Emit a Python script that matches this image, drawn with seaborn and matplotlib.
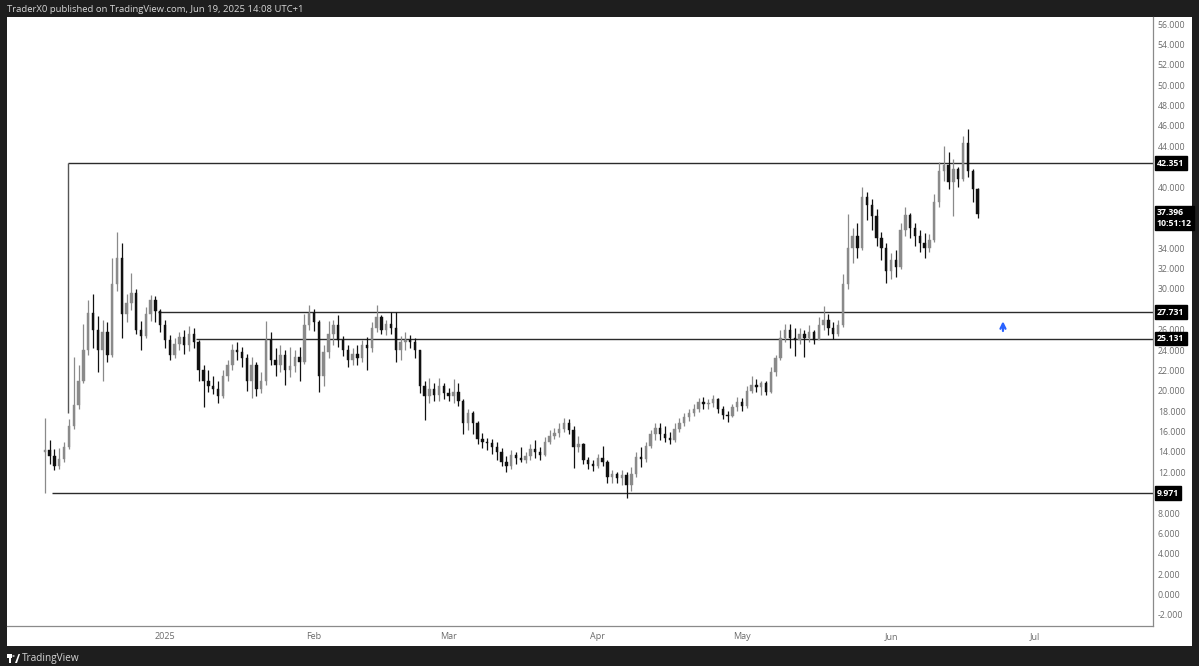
import matplotlib
matplotlib.use("Agg")
import matplotlib.pyplot as plt
import matplotlib.dates as mdates
import matplotlib.transforms as mtransforms
from matplotlib.patches import Rectangle, Polygon, Circle
import numpy as np
import pandas as pd
import seaborn as sns

# -----------------------------
# DATA (daily candles)
# -----------------------------
first_day = "2024-12-07"
first_open = 14.0

close = [14.2, 13.6, 12.6, 13.3, 14.5, 16.5, 18.6, 21.0, 24.0, 27.6, 26.0, 24.0, 25.8, 23.5,
         30.5, 33.0, 27.5, 28.6, 29.6, 26.0, 25.4, 27.5, 28.9, 27.8,
         26.5, 25.0, 23.5, 24.6, 25.3, 24.5, 25.6, 24.8, 22.0, 21.0, 20.5, 20.2, 19.5, 21.5,
         22.5, 24.0, 23.8, 23.2, 21.0, 22.5, 20.2, 21.0, 25.0, 23.0, 22.5, 23.5, 22.0, 22.4,
         23.3, 22.8, 26.5, 27.6, 26.8, 21.5, 23.8, 25.6, 26.5, 25.0, 24.0, 23.0, 23.6, 23.2,
         24.5, 24.2, 26.2, 27.2, 26.0, 26.6, 26.2, 24.0, 24.8, 25.0, 24.8, 24.0, 20.5, 19.5,
         20.2, 19.6, 20.5, 19.8, 19.5, 19.9, 19.0, 16.8, 17.8, 16.8, 15.3, 15.0, 14.9, 14.5,
         14.0, 13.0, 12.6, 13.7, 13.4, 13.2, 13.6, 14.3, 14.0, 13.7, 15.0, 15.6, 15.9, 16.3,
         16.8, 16.2, 14.5, 14.8, 13.2, 12.8, 12.6, 13.4, 13.0, 11.5, 11.8, 11.4, 11.7, 10.8,
         11.8, 13.5, 13.3, 14.6, 15.8, 16.4, 15.8, 15.4, 15.2, 16.3, 16.8, 17.4, 17.8, 18.2,
         18.9, 18.7, 18.8, 19.2, 18.2, 17.6, 17.5, 18.4, 18.9, 18.5, 20.0, 20.6, 20.4, 20.8,
         19.9, 21.8, 23.2, 25.2, 26.0, 25.2, 25.0, 25.6, 25.2, 25.8, 25.0, 26.5, 27.0, 26.2,
         25.6, 26.5, 30.5, 34.0, 35.2, 34.0, 39.0, 38.2, 37.2, 35.0, 34.0, 31.8, 32.8, 32.2,
         35.8, 37.3, 36.0, 35.2, 34.5, 34.0, 34.8, 38.5, 41.6, 42.2, 40.5, 41.8, 40.8, 44.3,
         41.6, 39.8, 37.396]

high = [17.3, 15.2, 14.3, 14.4, 15.0, 17.2, 23.3, 22.5, 26.6, 28.9, 29.5, 27.3, 27.0, 26.8,
        33.0, 35.6, 34.5, 29.5, 31.6, 30.0, 26.9, 28.2, 29.4, 29.3,
        28.0, 27.0, 25.5, 25.2, 25.8, 26.0, 26.4, 26.2, 25.0, 22.5, 22.0, 21.5, 21.0, 22.0,
        23.0, 24.6, 24.8, 24.3, 23.6, 23.3, 22.8, 21.8, 26.9, 25.8, 24.2, 24.5, 24.0, 24.3,
        24.0, 24.3, 27.5, 28.4, 28.0, 27.0, 24.5, 26.9, 27.0, 27.4, 25.4, 24.5, 24.2, 24.5,
        25.0, 25.3, 26.8, 28.4, 27.4, 27.0, 27.7, 27.7, 25.4, 25.8, 25.5, 25.2, 24.0, 21.0,
        21.3, 20.8, 21.3, 20.8, 20.3, 21.2, 20.8, 19.2, 18.2, 18.0, 17.0, 15.9, 15.4, 15.3,
        15.0, 14.4, 13.6, 14.2, 14.0, 14.5, 14.0, 14.8, 15.2, 14.5, 15.5, 16.2, 16.4, 16.8,
        17.3, 17.2, 16.5, 15.6, 14.9, 13.5, 13.2, 13.8, 14.6, 13.2, 12.2, 12.0, 12.2, 12.0,
        12.5, 14.0, 14.5, 15.0, 16.2, 16.8, 16.8, 16.5, 16.0, 16.8, 17.3, 17.8, 18.2, 18.7,
        19.3, 19.4, 19.2, 19.6, 19.3, 18.5, 18.0, 18.7, 19.4, 19.3, 20.5, 21.5, 21.2, 21.0,
        21.0, 22.3, 23.5, 26.0, 26.6, 26.6, 26.2, 26.2, 26.0, 26.5, 26.0, 27.2, 28.3, 27.5,
        26.8, 27.0, 31.5, 37.4, 36.0, 36.5, 40.0, 39.5, 38.8, 37.8, 35.6, 34.5, 33.5, 33.8,
        36.5, 38.0, 37.5, 36.5, 35.8, 35.5, 35.4, 39.3, 42.5, 44.0, 43.4, 42.8, 42.0, 45.0,
        45.7, 41.8, 39.9]

low = [9.971, 12.8, 12.2, 12.3, 13.0, 14.3, 16.3, 18.2, 20.8, 23.5, 24.2, 21.8, 21.0, 22.8,
       23.3, 29.8, 25.2, 26.8, 27.9, 25.6, 24.0, 25.2, 26.9, 26.8,
       25.8, 24.2, 23.0, 23.2, 24.0, 23.6, 23.9, 24.2, 21.0, 18.4, 19.9, 19.7, 18.8, 19.3,
       21.0, 22.0, 23.0, 22.3, 20.0, 19.3, 19.5, 19.8, 20.6, 22.5, 21.5, 21.8, 20.6, 21.4,
       21.8, 21.0, 22.6, 26.0, 25.9, 19.9, 20.5, 23.2, 24.5, 24.3, 23.4, 22.3, 22.5, 22.5,
       22.8, 22.0, 23.8, 25.8, 25.6, 25.5, 25.6, 22.8, 23.0, 24.0, 24.2, 23.2, 19.8, 17.1,
       18.8, 19.0, 19.0, 19.2, 19.0, 18.8, 18.5, 15.8, 16.2, 15.8, 14.8, 14.4, 14.2, 13.8,
       13.2, 12.6, 12.0, 12.3, 12.8, 13.0, 12.9, 13.2, 13.4, 13.2, 13.6, 14.8, 15.3, 15.5,
       16.0, 15.8, 12.4, 14.0, 12.8, 12.3, 12.1, 12.4, 12.6, 11.0, 11.0, 11.0, 10.8, 9.5,
       10.2, 11.5, 12.5, 13.0, 14.4, 15.2, 15.2, 15.0, 14.8, 15.0, 16.0, 16.5, 17.0, 17.5,
       17.9, 18.2, 18.2, 18.4, 17.8, 17.2, 16.9, 17.4, 18.0, 18.0, 18.3, 19.8, 19.9, 19.6,
       19.6, 19.8, 21.5, 23.0, 24.8, 24.2, 23.4, 24.6, 23.3, 24.8, 24.6, 25.2, 26.0, 25.5,
       25.1, 25.4, 26.3, 30.0, 32.5, 33.0, 33.8, 36.8, 35.8, 34.2, 32.8, 30.6, 31.0, 31.2,
       32.0, 35.2, 35.0, 34.2, 33.6, 33.0, 33.6, 34.6, 38.0, 40.6, 39.8, 37.2, 40.0, 40.6,
       41.0, 38.5, 37.0]

levels = [42.351, 27.731, 25.131, 9.971]
level_starts = ["2024-12-11 18:00", "2024-12-30 12:00", "2025-01-07 10:00", "2024-12-08 12:00"]
box_leg_bottom = 17.8

price_ticks = [-2, 0, 2, 4, 6, 8, 12, 14, 16, 18, 20, 22, 24, 26, 30, 32, 34,
               40, 44, 46, 48, 50, 52, 54, 56]

month_ticks = ["2025-01-01", "2025-02-01", "2025-03-01", "2025-04-01",
               "2025-05-01", "2025-06-01", "2025-07-01"]
month_labels = ["2025", "Feb", "Mar", "Apr", "May", "Jun", "Jul"]

# -----------------------------
# FIGURE
# -----------------------------
sns.set_style("white")
plt.rcParams["font.family"] = ["Open Sans", "DejaVu Sans"]

W, H = 1199, 666
fig = plt.figure(figsize=(W / 100, H / 100), dpi=100, facecolor="#1e1e1e")
fig.patches.append(Rectangle((7 / W, 20 / H), 1185 / W, 629 / H,
                             transform=fig.transFigure, fc="white", ec="none", zorder=-5))

ax = fig.add_axes([7 / W, 40 / H, 1146 / W, 609 / H])
ax.set_zorder(2)
ax.set_facecolor("white")

dates = pd.date_range(first_day, periods=len(close), freq="D")
xs = mdates.date2num(dates)
opens = np.r_[first_open, close[:-1]]
closes = np.array(close)
up = closes >= opens
colors = np.where(up, "#8a8a8a", "#111111")

ax.vlines(xs, low, high, colors=colors, linewidth=0.9, zorder=3)
body_h = np.maximum(np.abs(closes - opens), 0.08)
ax.bar(xs, body_h, bottom=np.minimum(opens, closes), width=0.5,
       color=colors, edgecolor=colors, linewidth=0.3, zorder=4)

# horizontal levels
x_end = mdates.date2num(pd.Timestamp("2025-07-26"))
for lvl, start in zip(levels, level_starts):
    ax.hlines(lvl, mdates.date2num(pd.Timestamp(start)), x_end,
              color="#2b2b2b", linewidth=1.0, zorder=2)
# vertical leg of the top box
ax.vlines(mdates.date2num(pd.Timestamp(level_starts[0])), box_leg_bottom, levels[0],
          color="#555555", linewidth=1.0, zorder=2)

# blue arrow
arrow_x = mdates.date2num(pd.Timestamp("2025-06-24 07:00"))
ax.annotate("", xy=(arrow_x, 27.1), xytext=(arrow_x, 25.6),
            arrowprops=dict(arrowstyle="->", color="#2962ff", lw=1.6,
                            mutation_scale=9), zorder=5)

# axes limits
ax.set_xlim(mdates.date2num(pd.Timestamp("2024-11-29 03:00")),
            mdates.date2num(pd.Timestamp("2025-07-25 12:00")))
ax.set_ylim(-3.08, 56.69)

# price scale on the right
ax.yaxis.tick_right()
ax.set_yticks(price_ticks)
ax.set_yticklabels([f"{v:.3f}" for v in price_ticks])
ax.tick_params(axis="y", length=0, pad=3.5, labelsize=6.3, labelcolor="#6b6b6b")
ax.set_xticks(mdates.date2num(pd.to_datetime(month_ticks)))
ax.set_xticklabels(month_labels)
ax.tick_params(axis="x", length=0, pad=4.5, labelsize=6.5, labelcolor="#6b6b6b")

for s in ["top", "left"]:
    ax.spines[s].set_visible(False)
for s in ["right", "bottom"]:
    ax.spines[s].set_color("#8a8a8a")
    ax.spines[s].set_linewidth(0.9)
ax.grid(False)

# price labels on scale
trans = mtransforms.blended_transform_factory(ax.transAxes, ax.transData)
box = dict(boxstyle="square,pad=0.25", fc="black", ec="black")
for lvl in levels:
    ax.text(1.0035, lvl, f"{lvl:.3f}", transform=trans, ha="left", va="center",
            fontsize=6.3, fontweight="bold", color="white", bbox=box,
            clip_on=False, zorder=10)
ax.text(1.0035, 37.95, f"{close[-1]:.3f}\n10:51:12", transform=trans, ha="left",
        va="top", fontsize=6.3, fontweight="bold", color="white", bbox=box,
        linespacing=1.25, clip_on=False, zorder=10)

# header / footer
fig.text(7 / W, 1 - 9 / H, "TraderX0 published on TradingView.com, Jun 19, 2025 14:08 UTC+1",
         color="#d6d6d6", fontsize=6.8, va="center", ha="left")
fig.patches.append(Rectangle((7 / W, 1 - 658 / H), 5 / W, 4 / H,
                             transform=fig.transFigure, fc="white", ec="none"))
fig.patches.append(Rectangle((9 / W, 1 - 663 / H), 2 / W, 6 / H,
                             transform=fig.transFigure, fc="white", ec="none"))
fig.patches.append(Circle((13.5 / W, 1 - 656 / H), 1.2 / W,
                          transform=fig.transFigure, fc="white", ec="none"))
fig.patches.append(Polygon([(15 / W, 1 - 663 / H), (18.5 / W, 1 - 654 / H),
                            (20 / W, 1 - 654 / H), (17 / W, 1 - 663 / H)],
                           transform=fig.transFigure, fc="white", ec="none"))
fig.text(22 / W, 1 - 659 / H, "TradingView", color="#d6d6d6", fontsize=7.2,
         va="center", ha="left")

plt.savefig("out.png", dpi=100, facecolor=fig.get_facecolor())
plt.close()
